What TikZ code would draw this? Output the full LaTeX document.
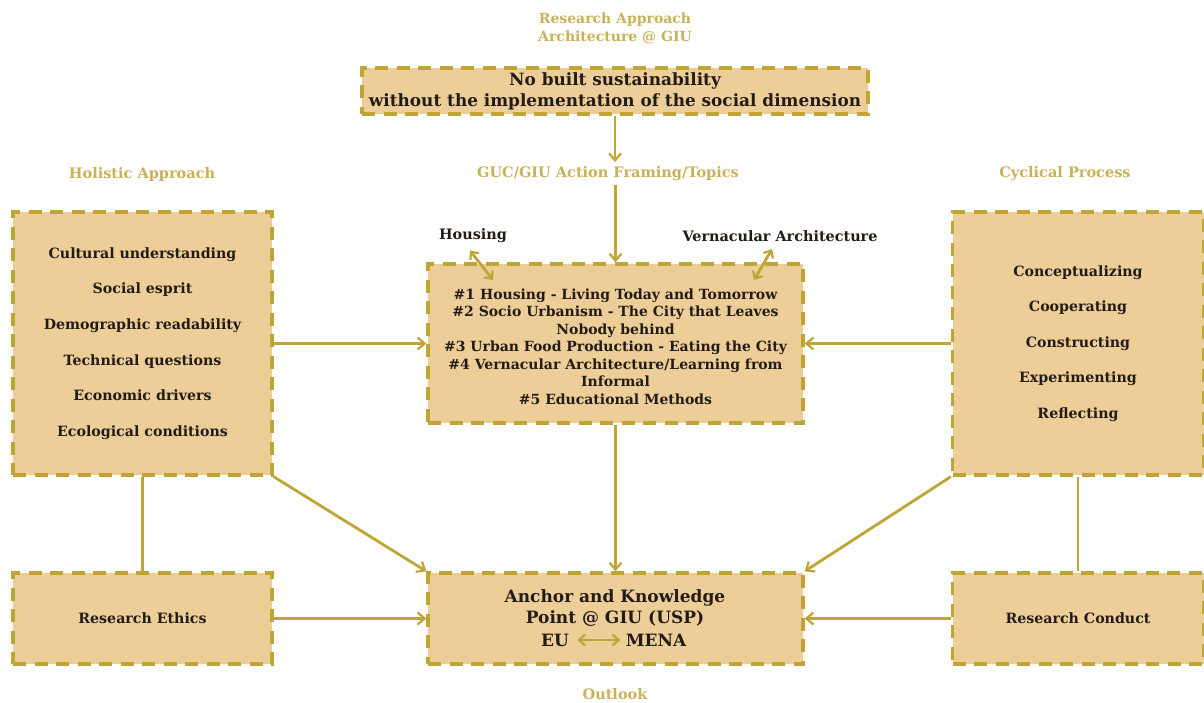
\documentclass[tikz,border=0pt]{standalone}
\usepackage{fontspec}
\setmainfont{DejaVu Serif}
\usetikzlibrary{arrows.meta}
\definecolor{boxfill}{RGB}{237,206,152}
\definecolor{olive}{RGB}{190,165,52}
\definecolor{goldtxt}{RGB}{200,178,88}
\definecolor{inktxt}{RGB}{35,28,22}
\tikzset{
  box/.style={draw=olive, fill=boxfill, line width=3.4pt, dash pattern=on 13pt off 8.5pt,
    inner sep=0pt, text=inktxt, font=\bfseries\fontsize{14}{17.5}\selectfont, align=center},
  head/.style={text=goldtxt, font=\bfseries\fontsize{14.5}{18}\selectfont, align=center},
  plain/.style={text=inktxt, font=\bfseries\fontsize{14.4}{17}\selectfont},
  conn/.style={draw=olive, line width=2.8pt, -{Straight Barb[length=7pt,width=12pt,line width=2.2pt]}},
  link/.style={draw=olive, line width=2.8pt},
  dbl/.style={draw=olive, line width=2.8pt, {Straight Barb[length=6pt,width=11pt,line width=2.2pt]}-{Straight Barb[length=6pt,width=11pt,line width=2.2pt]}}
}
\begin{document}
\begin{tikzpicture}[x=1pt,y=-1pt]
\useasboundingbox (0,0) rectangle (1204,702);
% headings
\node[head, font=\bfseries\fontsize{14}{18}\selectfont] (title) at (615,28) {Research Approach\\Architecture @ GIU};
\node[head] (holh) at (142,174) {Holistic Approach};
\node[head] (acth) at (608,174) {GUC/GIU Action Framing/Topics};
\node[head] (cych) at (1065,174) {Cyclical Process};
\node[head] (outl) at (615,694) {Outlook};
% boxes
\node[box, minimum width=506pt, minimum height=46pt, font=\bfseries\fontsize{16.9}{21}\selectfont] (top) at (615,91)
  {No built sustainability\\without the implementation of the social dimension};
\node[box, minimum width=259pt, minimum height=263pt, font=\bfseries\fontsize{14.2}{35.6}\selectfont] (left) at (142.5,343.5)
  {Cultural understanding\\Social esprit\\Demographic readability\\Technical questions\\Economic drivers\\Ecological conditions};
\node[box, minimum width=375pt, minimum height=159pt] (center) at (615.5,343.5) {};
\node[plain, align=center, font=\bfseries\fontsize{14}{17.5}\selectfont] (topics) at (615.5,346.5)
  {\#1 Housing - Living Today and Tomorrow\\\#2 Socio Urbanism - The City that Leaves\\Nobody behind\\\#3 Urban Food Production - Eating the City\\\#4 Vernacular Architecture/Learning from\\Informal\\\#5 Educational Methods};
\node[box, minimum width=251pt, minimum height=263pt, font=\bfseries\fontsize{14.2}{35.5}\selectfont] (right) at (1078,343.5)
  {Conceptualizing\\Cooperating\\Constructing\\Experimenting\\Reflecting};
\node[box, minimum width=259pt, minimum height=91pt, font=\bfseries\fontsize{14.2}{17}\selectfont] (ethics) at (142.5,618.5) {Research Ethics};
\node[box, minimum width=375pt, minimum height=91pt] (anchor) at (615.5,618.5) {};
\node[box, minimum width=251pt, minimum height=91pt, font=\bfseries\fontsize{14.2}{17}\selectfont] (conduct) at (1078,618.5) {Research Conduct};
% anchor content
\node[plain, align=center, font=\bfseries\fontsize{17}{20.5}\selectfont] (anchtxt) at (615,608) {Anchor and Knowledge\\Point @ GIU (USP)};
\node[plain, font=\bfseries\fontsize{17}{20}\selectfont] (eu) at (555,640) {EU};
\node[plain, font=\bfseries\fontsize{17}{20}\selectfont] (mena) at (656,640) {MENA};
\draw[dbl] ([xshift=5pt]eu.east) -- ([xshift=-2pt]mena.west);
% labels above center
\node[plain] (hous) at (473,236) {Housing};
\node[plain] (vern) at (780,236) {Vernacular Architecture};
\coordinate (hin) at (493,280);
\coordinate (vin) at (754,280);
\draw[dbl] ([xshift=-3pt,yshift=-4pt]hous.south) -- (hin);
\draw[dbl] ([xshift=-8pt,yshift=-4pt]vern.south) -- (vin);
% connectors
\coordinate (a1) at (615,162);
\draw[conn] (top.south) -- (a1);
\draw[conn] (center.north |- acth.south) -- (center.north);
\draw[conn] (left.east) -- (center.west);
\draw[conn] (right.west) -- (center.east);
\draw[conn] (center.south) -- (anchor.north);
\draw[conn] (left.south east) -- (anchor.north west);
\draw[conn] (right.south west) -- (anchor.north east);
\draw[link] (left.south) -- (ethics.north);
\draw[link] (right.south) -- (conduct.north);
\draw[conn] (ethics.east) -- (anchor.west);
\draw[conn] (conduct.west) -- (anchor.east);
\end{tikzpicture}
\end{document}
